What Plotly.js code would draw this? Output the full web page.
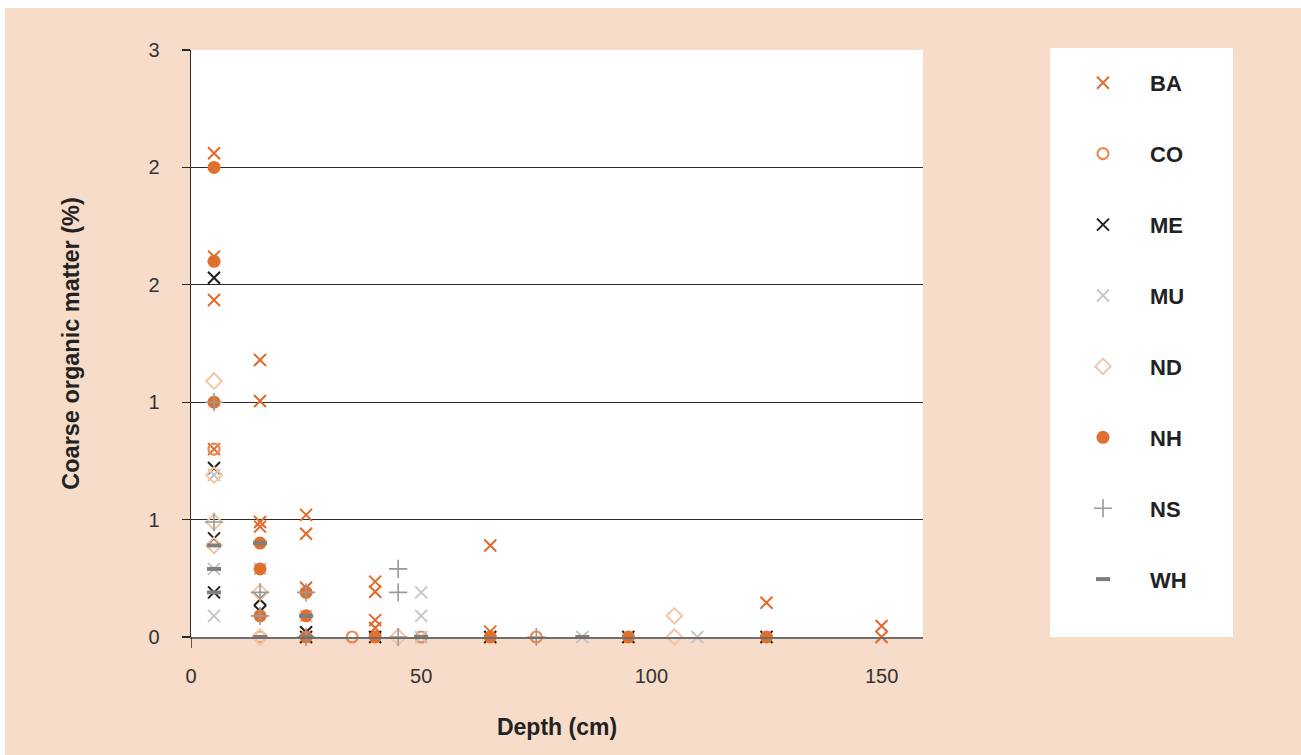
<!DOCTYPE html>
<html>
<head>
<meta charset="utf-8">
<script src="https://cdn.plot.ly/plotly-3.0.1.min.js"></script>
<style>html,body{margin:0;padding:0;background:#fff;}#chart{width:1301px;height:755px;}</style>
</head>
<body>
<div id="chart"></div>
<script>
// Depth (cm) and coarse organic matter (%) per site
const BA_depth = [5,5,5,5,15,15,15,15,25,25,25,40,40,40,40,65,65,125,150,150];
const BA_val   = [2.06,1.62,1.435,0.80,1.18,1.005,0.49,0.47,0.52,0.44,0.21,0.236,0.193,0.072,0.038,0.39,0.023,0.146,0.047,0];
const CO_depth = [5,15,35,50,75];
const CO_val   = [0.80,0,0,0,0];
const ME_depth = [5,5,5,5,15,15,25,25,40,65,95,125];
const ME_val   = [1.53,0.72,0.42,0.19,0.16,0.11,0.02,0,0,0,0,0];
const MU_depth = [5,5,5,15,25,50,50,50,85,110];
const MU_val   = [0.69,0.29,0.09,0.29,0.09,0.19,0.09,0,0,0];
const ND_depth = [5,5,5,5,15,15,45,105,105];
const ND_val   = [1.09,0.69,0.49,0.39,0.19,0,0,0.09,0];
const NH_depth = [5,5,5,15,15,15,25,25,25,40,65,95,125];
const NH_val   = [2.00,1.60,1.00,0.40,0.29,0.09,0.19,0.09,0,0,0,0,0];
const NS_depth = [5,5,15,15,25,25,45,45,45,75];
const NS_val   = [1.00,0.49,0.19,0.09,0.19,0,0.29,0.19,0,0];
const WH_depth = [5,5,5,15,15,25,25,50,85];
const WH_val   = [0.39,0.29,0.19,0.40,0,0.09,0,0,0];

const yTickVals = [0,0.5,1,1.5,2,2.5];
const yTickText = ['0','1','1','2','2','3'];
const xTickVals = [0,50,100,150];
const xTickText = ['0','50','100','150'];

const FONT = '"Liberation Sans", Arial, Helvetica, sans-serif';

function tr(name, x, y, marker) {
  return {type:'scatter', mode:'markers', name:name, x:x, y:y, marker:marker,
          legendgroup:name, cliponaxis:false, hoverinfo:'x+y+name'};
}

const data = [
  tr('BA', BA_depth, BA_val, {symbol:'x-thin-open', size:12, color:'#e2692a', line:{color:'#e2692a', width:2}}),
  tr('CO', CO_depth, CO_val, {symbol:'circle-open', size:11, color:'#ea8a50', line:{color:'#ea8a50', width:2.2}}),
  tr('ME', ME_depth, ME_val, {symbol:'x-thin-open', size:12, color:'#1e1e1e', line:{color:'#1e1e1e', width:2}}),
  tr('MU', MU_depth, MU_val, {symbol:'x-thin-open', size:12, color:'#c6c6c6', line:{color:'#c6c6c6', width:2}}),
  tr('ND', ND_depth, ND_val, {symbol:'diamond-open', size:12, color:'#f5c6a4', line:{color:'#f5c6a4', width:2}}),
  tr('NH', NH_depth, NH_val, {symbol:'circle', size:13, color:'#e0702e', line:{width:0}}),
  tr('NS', NS_depth, NS_val, {symbol:'cross-thin-open', size:13, color:'#999999', line:{color:'#999999', width:1.6}}),
  tr('WH', WH_depth, WH_val, {symbol:'line-ew-open', size:10, color:'#7f7f7f', line:{color:'#7f7f7f', width:4}})
];

// paper-coordinate helpers (plot area: x 191..923 px, y 50..637 px)
const px = v => (v-191)/732;
const py = v => (637-v)/587;

const layout = {
  width:1301, height:755,
  paper_bgcolor:'#f6dcc9',
  plot_bgcolor:'#ffffff',
  margin:{l:191, r:378, t:50, b:118, pad:0},
  font:{family:FONT, color:'#333333', size:20},
  showlegend:true,
  legend:{
    x:px(1056), y:py(62), xanchor:'left', yanchor:'top',
    bgcolor:'rgba(0,0,0,0)', borderwidth:0,
    font:{family:FONT, size:22, color:'#222222', weight:'bold'},
    itemwidth:84, tracegroupgap:39.3, traceorder:'grouped'
  },
  xaxis:{
    range:[0,159], tickvals:xTickVals, ticktext:xTickText,
    showgrid:false, zeroline:false, showline:true, linecolor:'#6e6e6e', linewidth:1.5,
    ticks:'', ticklabelstandoff:20,
    tickfont:{family:FONT, size:20, color:'#333333'},
    title:{text:'Depth (cm)', font:{family:FONT, size:23, color:'#222222', weight:'bold'}, standoff:33},
    fixedrange:true
  },
  yaxis:{
    range:[0,2.5], tickvals:yTickVals, ticktext:yTickText,
    showgrid:true, gridcolor:'#2a2a2a', gridwidth:1, zeroline:false,
    showline:true, linecolor:'#2a2a2a', linewidth:1.5,
    ticks:'outside', ticklen:8, tickcolor:'#2a2a2a', tickwidth:1.2, ticklabelstandoff:18,
    tickfont:{family:FONT, size:20, color:'#333333'},
    title:{text:'Coarse organic matter (%)', font:{family:FONT, size:23.5, color:'#222222', weight:'bold'}, standoff:62},
    fixedrange:true
  },
  shapes:[
    // white frame strips at top and left edges
    {type:'rect', xref:'paper', yref:'paper', x0:px(0), x1:px(1301), y0:py(8), y1:py(0), fillcolor:'#ffffff', line:{width:0}, layer:'below'},
    {type:'rect', xref:'paper', yref:'paper', x0:px(0), x1:px(5), y0:py(755), y1:py(0), fillcolor:'#ffffff', line:{width:0}, layer:'below'},
    // legend panel
    {type:'rect', xref:'paper', yref:'paper', x0:px(1050), x1:px(1233), y0:py(637), y1:py(48), fillcolor:'#ffffff', line:{width:0}, layer:'below'},
    // y-axis line extension below zero
    {type:'line', xref:'x', yref:'paper', x0:0, x1:0, y0:py(648), y1:0, line:{color:'#2a2a2a', width:1.5}}
  ]
};

Plotly.newPlot('chart', data, layout, {displayModeBar:false, staticPlot:true});
</script>
</body>
</html>
